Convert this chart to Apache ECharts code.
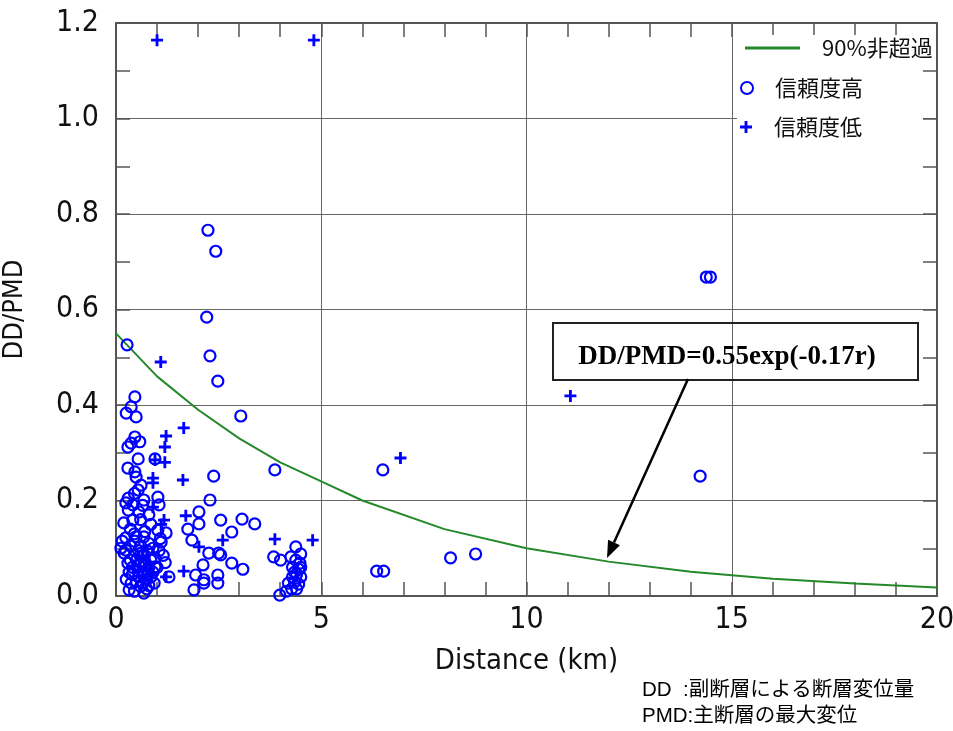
<!DOCTYPE html>
<html><head><meta charset="utf-8">
<script src="https://cdn.jsdelivr.net/npm/echarts@6/dist/echarts.min.js"></script>
<style>html,body{margin:0;padding:0;background:#fff}#c{width:953px;height:731px}</style>
</head><body><div id="c"></div>
<script>
// ---- data ----
const curveR = [0, 1, 2, 3, 4, 5, 6, 8, 10, 12, 14, 16, 18, 20];
const curveV = [0.55, 0.46, 0.39, 0.33, 0.28, 0.24, 0.20, 0.14, 0.10, 0.072, 0.051, 0.036, 0.026, 0.018];

const highPts = [
 [2.24,0.766],[2.43,0.722],[2.21,0.584],[2.29,0.503],[2.48,0.450],[3.04,0.377],[0.27,0.526],
 [3.87,0.264],[6.50,0.264],[2.38,0.251],[14.38,0.668],[14.48,0.668],[14.23,0.251],
 [8.15,0.080],[8.76,0.088],[6.35,0.052],[6.52,0.052],
 [2.29,0.201],[2.02,0.176],[2.02,0.151],[1.75,0.140],[1.85,0.117],[2.55,0.159],[3.07,0.161],
 [3.38,0.151],[2.82,0.134],[2.26,0.090],[2.50,0.090],[2.55,0.086],[2.12,0.065],[2.82,0.069],
 [3.09,0.056],[1.94,0.044],[2.14,0.034],[2.48,0.044],[2.48,0.027],[1.90,0.013],[2.14,0.027],
 [3.84,0.082],[4.01,0.075],[4.26,0.082],[4.38,0.103],[4.38,0.075],[4.48,0.069],[4.30,0.060],
 [4.45,0.056],[4.40,0.046],[4.30,0.040],[4.50,0.040],[4.35,0.029],[4.45,0.025],[4.20,0.027],
 [4.28,0.015],[4.40,0.015],[4.15,0.010],[3.99,0.002],[4.50,0.088],[4.50,0.060],[4.35,0.050],
 [0.46,0.417],[0.37,0.396],[0.25,0.383],[0.49,0.375],[0.46,0.333],[0.58,0.323],[0.37,0.320],
 [0.29,0.312],[0.54,0.287],[0.95,0.287],[0.29,0.268],[0.46,0.260],[0.49,0.249],[0.61,0.232],
 [0.54,0.222],[1.02,0.207],[0.68,0.201],[0.24,0.195],[0.41,0.191],[1.05,0.191],[0.56,0.176],
 [0.41,0.159],[0.19,0.153],[0.24,0.122],[0.49,0.124],[0.68,0.124],[1.02,0.138],[1.22,0.132],
 [1.10,0.113],[0.24,0.096],[0.90,0.100],[0.29,0.069],[0.95,0.080],[0.32,0.050],[0.95,0.061],
 [0.68,0.073],[0.37,0.027],[0.32,0.013],[0.68,0.006],[0.66,0.027],[0.93,0.027],[1.29,0.040],
 [0.54,0.052],[0.78,0.048],[0.44,0.085],[0.61,0.090],[0.15,0.115],[0.20,0.090],[0.80,0.110],
 [0.85,0.150],[0.35,0.140],[0.12,0.100],[0.50,0.030],[0.85,0.040],[0.75,0.015],[0.55,0.065],
 [1.00,0.060],[0.30,0.180],[0.60,0.160],[0.70,0.050],[0.40,0.060],[0.85,0.075],[0.25,0.035],
 [0.45,0.010],[0.60,0.105],[1.05,0.095],
 [0.35,0.105],[0.45,0.115],[0.55,0.095],[0.65,0.085],[0.75,0.095],[0.50,0.075],[0.60,0.070],
 [0.70,0.065],[0.80,0.060],[0.40,0.045],[0.55,0.040],[0.65,0.045],[0.75,0.035],[0.90,0.050],
 [0.60,0.020],[0.80,0.022],[1.15,0.085],[1.20,0.070],[0.45,0.130],[0.70,0.135],[0.35,0.075],
 [1.08,0.120],[0.30,0.205],[0.45,0.215],[0.65,0.190],[0.80,0.170]
];
const lowPts = [
 [1.00,1.164],[4.82,1.164],[1.09,0.490],[1.65,0.352],[1.22,0.335],[1.19,0.312],[0.95,0.285],
 [1.19,0.280],[0.90,0.247],[1.63,0.243],[0.90,0.237],[0.90,0.186],[1.17,0.159],[1.70,0.168],
 [2.02,0.103],[2.60,0.117],[3.87,0.119],[4.79,0.117],[1.65,0.052],[1.22,0.040],[6.93,0.289],
 [11.07,0.419],[0.85,0.045],[1.10,0.150]
];
const xTicks = [0, 5, 10, 15, 20];
const yTicks = [0, 0.2, 0.4, 0.6, 0.8, 1.0, 1.2];
const seriesNames = ['90%非超過', '信頼度高', '信頼度低'];
const equationText = 'DD/PMD=0.55exp(-0.17r)';
const noteLines = ['DD  :副断層による断層変位量', 'PMD:主断層の最大変位'];

// ---- chart ----
const BLUE = '#0000ff', GREEN = '#23892a';
const PLUS = 'path://M4.2,0H6.8V4.2H11V6.8H6.8V11H4.2V6.8H0V4.2H4.2Z';
const numFont = '"Liberation Sans Narrow","DejaVu Sans Condensed","Noto Sans",sans-serif';
const cjk = '"Noto Sans CJK JP","Liberation Sans",sans-serif';

const axisCommon = {
  axisLine: {show: true, onZero: false, lineStyle: {color: '#555', width: 2}},
  axisTick: {show: true, inside: true, length: 14, lineStyle: {color: '#555', width: 1.5}},
  minorTick: {show: true, length: 14, lineStyle: {color: '#555', width: 1.5}},
  splitLine: {show: false}
};

const chart = echarts.init(document.getElementById('c'), null, {renderer: 'canvas'});

// arrow geometry
const aS = [688, 379], aE = [607, 558];
const dx = aE[0]-aS[0], dy = aE[1]-aS[1], L = Math.hypot(dx, dy);
const ux = dx/L, uy = dy/L, nx = -uy, ny = ux, HL = 17, HW = 6.5;
const bx = aE[0]-HL*ux, by = aE[1]-HL*uy;

chart.setOption({
  animation: false,
  backgroundColor: '#fff',
  grid: {left: 116, right: 16, top: 23, bottom: 135, containLabel: false, outerBoundsMode: 'none'},
  xAxis: [
    Object.assign({}, axisCommon, {
      type: 'value', min: xTicks[0], max: xTicks[xTicks.length-1], interval: 5,
      minorTick: Object.assign({}, axisCommon.minorTick, {splitNumber: 5}),
      splitLine: {show: true, lineStyle: {color: '#666', width: 1}},
      axisLabel: {fontFamily: numFont, fontSize: 30, color: '#111', margin: 9},
      name: 'Distance (km)', nameLocation: 'middle', nameGap: 51,
      nameTextStyle: {fontFamily: numFont, fontSize: 29, color: '#111'}
    }),
    Object.assign({}, axisCommon, {
      type: 'value', position: 'top', min: 0, max: 20, interval: 5,
      minorTick: Object.assign({}, axisCommon.minorTick, {splitNumber: 5}),
      axisLabel: {show: false}
    })
  ],
  yAxis: [
    Object.assign({}, axisCommon, {
      type: 'value', min: yTicks[0], max: yTicks[yTicks.length-1], interval: 0.2,
      minorTick: Object.assign({}, axisCommon.minorTick, {splitNumber: 2}),
      splitLine: {show: true, lineStyle: {color: '#666', width: 1}},
      axisLabel: {fontFamily: numFont, fontSize: 30, color: '#111', margin: 17,
        formatter: v => v.toFixed(1)},
      name: 'DD/PMD', nameLocation: 'middle', nameGap: 88, nameRotate: 90,
      nameTextStyle: {fontFamily: numFont, fontSize: 27, color: '#111'}
    }),
    Object.assign({}, axisCommon, {
      type: 'value', position: 'right', min: 0, max: 1.2, interval: 0.2,
      minorTick: Object.assign({}, axisCommon.minorTick, {splitNumber: 2}),
      axisLabel: {show: false}
    })
  ],
  legend: [
    {data: [{name: seriesNames[0], icon: 'rect'}], left: 745, top: 37, padding: 0, itemWidth: 55, itemHeight: 3,
     textStyle: {fontFamily: cjk, fontSize: 22, color: '#111', padding: [0,0,0,17]}, selectedMode: false},
    {data: [seriesNames[1]], left: 740, top: 77, padding: 0, itemWidth: 12, itemHeight: 12,
     textStyle: {fontFamily: cjk, fontSize: 22, color: '#111', padding: [0,0,0,17]}, selectedMode: false},
    {data: [{name: seriesNames[2], icon: PLUS}], left: 740, top: 116, padding: 0, itemWidth: 12, itemHeight: 12,
     textStyle: {fontFamily: cjk, fontSize: 22, color: '#111', padding: [0,0,0,17]}, selectedMode: false}
  ],
  series: [
    {name: seriesNames[0], type: 'line', data: curveR.map((r, i) => [r, curveV[i]]),
     symbol: 'none', lineStyle: {color: GREEN, width: 2}, itemStyle: {color: GREEN}, z: 3},
    {name: seriesNames[1], type: 'scatter', data: highPts, symbol: 'circle', symbolSize: 11,
     itemStyle: {color: 'rgba(0,0,0,0)', borderColor: BLUE, borderWidth: 2.2, opacity: 1}, z: 4},
    {name: seriesNames[2], type: 'scatter', data: lowPts, symbol: PLUS, symbolSize: 12,
     itemStyle: {color: BLUE, opacity: 1}, z: 4}
  ],
  graphic: [
    {type: 'rect', shape: {x: 737, y: 35, width: 186, height: 112}, style: {fill: '#fff'}, z: 1, silent: true},
    {type: 'rect', shape: {x: 553, y: 323, width: 365, height: 57},
     style: {fill: 'none', stroke: '#222', lineWidth: 2}, z: 10},
    {type: 'text', x: 727, y: 357, z: 11,
     style: {text: equationText, fill: '#000', font: 'bold 27px "Liberation Serif","DejaVu Serif",serif',
       textAlign: 'center', textVerticalAlign: 'middle'}},
    {type: 'line', shape: {x1: aS[0], y1: aS[1], x2: bx, y2: by},
     style: {stroke: '#000', lineWidth: 2.5}, z: 10},
    {type: 'polygon', shape: {points: [[aE[0], aE[1]], [bx+HW*nx, by+HW*ny], [bx-HW*nx, by-HW*ny]]},
     style: {fill: '#000'}, z: 10},
    {type: 'text', x: 642, y: 690, z: 11,
     style: {text: noteLines[0], fill: '#000', font: '20.5px "Liberation Sans","Noto Sans CJK JP",sans-serif',
       textVerticalAlign: 'middle'}},
    {type: 'text', x: 642, y: 716, z: 11,
     style: {text: noteLines[1], fill: '#000', font: '20.5px "Liberation Sans","Noto Sans CJK JP",sans-serif',
       textVerticalAlign: 'middle'}}
  ]
});
</script></body></html>
